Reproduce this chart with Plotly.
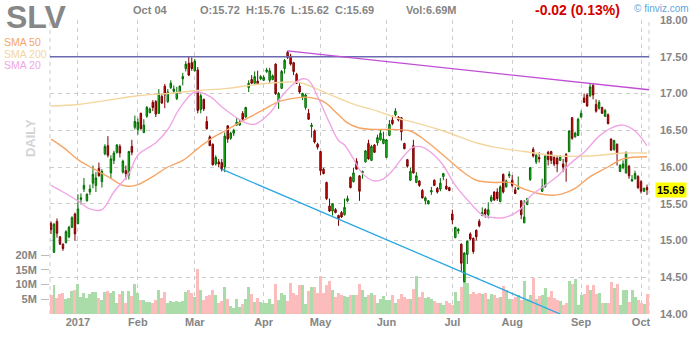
import plotly.graph_objects as go

# ---------------- data ----------------
opens = [15.23,14.84,15.26,15.05,14.95,14.97,15.05,15.18,15.36,15.23,
         15.56,15.70,15.54,15.66,15.78,15.75,15.98,15.80,16.18,16.29,
         15.92,16.09,16.20,16.28,15.93,15.95,15.89,16.28,16.54,16.51,
         16.73,16.47,16.69,16.74,16.88,16.89,16.73,16.96,17.10,16.89,
         17.08,17.03,16.93,17.02,17.20,17.34,17.41,17.42,17.31,17.32,
         16.78,16.92,16.62,16.41,16.31,16.04,16.07,16.06,16.00,16.56,
         16.39,16.46,16.57,16.57,16.73,16.68,17.08,17.19,17.14,17.17,
         17.20,17.18,17.30,17.18,17.19,17.40,16.90,17.07,17.34,17.56,
         17.51,17.42,17.26,17.10,16.95,16.81,16.73,16.55,16.49,16.31,
         16.21,15.97,15.79,15.47,15.40,15.42,15.34,15.38,15.35,15.54,
         15.86,15.80,16.08,15.88,15.92,16.07,16.32,16.09,16.30,16.33,
         16.37,16.32,16.13,16.43,16.64,16.71,16.68,16.67,16.32,16.10,
         15.82,16.29,15.79,15.81,15.68,15.54,15.50,15.66,15.82,15.71,
         15.70,15.87,15.74,15.72,15.36,15.04,15.13,14.95,14.44,14.81,
         15.09,15.03,15.14,15.26,15.34,15.42,15.35,15.54,15.66,15.66,
         15.53,15.90,15.73,15.88,15.82,15.69,15.70,15.54,15.24,15.49,
         15.83,16.24,16.07,16.13,15.67,15.73,16.20,16.21,16.13,16.12,
         16.09,16.04,16.17,16.21,16.67,16.41,16.43,16.68,16.94,16.98,
         16.97,17.11,16.85,16.80,16.81,16.69,16.71,16.38,16.24,16.31,
         15.94,15.99,15.92,16.01,15.81,15.84,15.87,15.80,15.67,15.72]
highs = [15.26,15.24,15.30,15.06,14.96,15.14,15.20,15.33,15.38,15.63,
         15.64,15.85,15.64,15.76,16.02,15.93,16.06,15.97,16.31,16.42,
         16.16,16.22,16.31,16.31,16.10,16.02,16.22,16.37,16.70,16.66,
         16.74,16.65,16.83,16.81,16.91,16.91,17.06,17.00,17.13,17.06,
         17.18,17.11,17.09,17.11,17.28,17.44,17.51,17.49,17.47,17.36,
         17.00,16.93,16.69,16.43,16.32,16.16,16.11,16.11,16.47,16.57,
         16.48,16.52,16.67,16.65,16.76,16.82,17.18,17.25,17.30,17.31,
         17.25,17.25,17.35,17.35,17.26,17.41,17.02,17.32,17.47,17.58,
         17.54,17.43,17.28,17.14,17.01,17.00,16.79,16.60,16.51,16.33,
         16.22,15.99,15.80,15.57,15.50,15.44,15.35,15.40,15.57,15.61,
         15.87,15.99,16.12,15.89,15.95,16.23,16.37,16.30,16.31,16.44,
         16.51,16.48,16.38,16.64,16.70,16.80,16.69,16.68,16.33,16.11,
         15.99,16.37,15.93,15.82,15.70,15.60,15.55,15.73,15.83,15.73,
         15.85,15.92,15.84,15.73,15.42,15.18,15.17,14.96,14.84,15.00,
         15.11,15.04,15.15,15.29,15.45,15.44,15.52,15.62,15.67,15.71,
         15.75,15.91,15.83,15.94,15.89,15.73,15.87,15.55,15.55,15.58,
         16.00,16.27,16.19,16.20,15.84,16.16,16.22,16.22,16.16,16.16,
         16.16,16.11,16.19,16.50,16.68,16.48,16.67,16.77,17.00,17.00,
         17.13,17.13,16.92,16.91,16.82,16.79,16.73,16.39,16.37,16.32,
         16.04,16.09,16.21,16.03,15.89,15.95,15.89,15.82,15.72,15.76]
lows = [15.09,14.83,15.04,14.94,14.86,14.96,15.03,15.17,15.00,15.22,
        15.49,15.66,15.53,15.62,15.71,15.66,15.87,15.72,16.16,16.13,
        15.85,16.04,16.18,16.13,15.91,15.83,15.83,16.16,16.51,16.44,
        16.51,16.46,16.67,16.73,16.76,16.68,16.72,16.86,16.80,16.87,
        17.06,17.00,16.91,17.00,17.11,17.30,17.24,17.31,17.30,16.73,
        16.73,16.76,16.51,16.29,16.02,16.02,16.00,15.94,15.93,16.33,
        16.37,16.42,16.56,16.56,16.62,16.67,17.02,17.13,17.13,17.12,
        17.18,17.17,17.28,17.14,17.18,16.98,16.79,17.06,17.27,17.47,
        17.38,17.25,17.13,17.00,16.91,16.78,16.64,16.40,16.32,16.24,
        15.89,15.90,15.55,15.39,15.34,15.37,15.20,15.31,15.34,15.52,
        15.71,15.79,15.97,15.54,15.84,16.06,16.10,16.08,16.19,16.29,
        16.36,16.31,16.12,16.42,16.57,16.69,16.62,16.36,16.24,15.99,
        15.81,15.91,15.78,15.73,15.57,15.49,15.49,15.62,15.75,15.64,
        15.67,15.82,15.69,15.67,15.22,15.03,15.09,14.57,14.43,14.68,
        15.00,14.82,15.00,15.18,15.33,15.31,15.30,15.52,15.54,15.54,
        15.52,15.64,15.72,15.85,15.72,15.63,15.69,15.29,15.24,15.48,
        15.81,16.13,16.04,16.06,15.66,15.72,16.02,16.04,16.01,15.93,
        16.08,15.93,15.80,16.20,16.37,16.40,16.42,16.67,16.87,16.82,
        16.95,16.92,16.74,16.78,16.73,16.68,16.58,16.22,16.22,16.02,
        15.93,15.97,15.91,15.84,15.80,15.83,15.70,15.64,15.66,15.62]
closes = [15.15,15.22,15.10,14.95,14.89,15.12,15.18,15.31,15.09,15.43,
          15.58,15.75,15.63,15.70,15.90,15.85,15.88,15.94,16.28,16.16,
          16.11,16.19,16.30,16.19,16.08,15.91,16.21,16.20,16.62,16.61,
          16.52,16.57,16.81,16.79,16.81,16.72,17.00,16.87,16.98,17.02,
          17.14,17.06,17.01,17.10,17.23,17.40,17.25,17.34,17.44,16.77,
          16.97,16.79,16.52,16.29,16.03,16.13,16.04,15.97,16.42,16.38,
          16.46,16.50,16.61,16.61,16.65,16.81,17.14,17.14,17.23,17.13,
          17.23,17.22,17.32,17.31,17.24,17.00,17.00,17.30,17.45,17.49,
          17.40,17.30,17.14,17.02,17.00,16.98,16.65,16.57,16.34,16.27,
          15.95,15.91,15.57,15.40,15.50,15.38,15.30,15.32,15.45,15.57,
          15.72,15.92,15.97,15.67,15.94,16.22,16.11,16.28,16.20,16.40,
          16.46,16.38,16.37,16.58,16.59,16.76,16.64,16.48,16.25,16.01,
          15.94,15.92,15.88,15.75,15.58,15.58,15.54,15.68,15.75,15.66,
          15.78,15.91,15.70,15.68,15.28,15.18,15.15,14.69,14.83,14.99,
          15.02,14.85,15.05,15.20,15.38,15.36,15.42,15.59,15.55,15.57,
          15.73,15.66,15.81,15.90,15.75,15.64,15.71,15.35,15.32,15.57,
          15.99,16.15,16.16,16.11,15.73,16.15,16.10,16.09,16.04,16.04,
          16.14,16.00,16.07,16.49,16.39,16.46,16.65,16.73,16.88,16.83,
          17.09,16.98,16.76,16.88,16.73,16.77,16.59,16.23,16.36,16.18,
          16.02,16.04,16.20,15.88,15.83,15.91,15.72,15.67,15.71,15.69]
volumes_m = [6.3,10.0,5.4,6.7,7.2,5.2,5.4,7.7,8.0,10.3,
             5.8,7.0,5.4,6.8,7.3,7.3,5.3,4.7,7.3,7.7,
             7.2,7.7,3.8,6.7,7.7,3.8,7.7,6.1,10.3,7.1,
             4.7,4.7,4.1,4.1,3.9,4.7,8.2,5.4,7.4,3.8,
             4.3,4.1,4.3,4.1,4.3,7.3,8.0,7.2,5.8,15.1,
             8.0,4.9,6.1,6.6,8.0,6.3,3.9,4.3,9.2,5.0,
             2.8,2.1,5.0,2.5,3.3,5.0,9.0,6.8,4.1,5.4,
             4.1,3.9,3.6,5.0,3.5,10.3,4.7,7.1,6.3,4.3,
             10.6,7.1,6.6,9.9,9.9,3.3,7.7,9.0,9.0,7.0,
             13.0,7.0,10.0,11.3,8.0,5.7,7.0,6.6,6.0,5.7,
             6.3,6.3,6.3,10.2,8.3,5.8,6.3,7.2,6.3,3.9,
             5.0,6.0,4.7,4.7,6.3,3.9,5.0,6.9,5.8,5.2,
             5.2,8.6,13.0,5.8,7.4,5.4,5.7,5.0,4.3,3.9,
             3.6,3.2,4.3,3.9,3.0,7.4,4.3,9.0,14.3,10.6,
             6.9,7.4,6.9,7.1,6.9,7.2,5.0,6.9,6.6,5.4,
             5.8,9.5,8.0,5.2,5.2,5.8,6.3,4.7,11.3,5.0,
             6.6,12.2,5.2,6.1,6.6,8.8,5.8,7.8,5.4,4.7,
             4.3,3.0,3.6,11.2,10.3,11.7,3.0,6.3,6.8,9.9,
             8.0,9.9,6.9,7.2,3.9,3.9,3.9,11.0,8.8,10.1,
             3.2,8.0,8.3,4.1,8.3,5.8,4.7,3.9,3.3,6.69]

# moving averages (trading-day index, value)
sma50_idx = [0,4,9,14,19,24,27,29,34,39,44,49,54,59,65,71,76,82,85,91,96,99,103,
             109,114,120,125,131,137,142,148,153,158,164,169,175,180,186,191,199]
sma50_val = [16.38,16.27,16.10,15.98,15.87,15.75,15.74,15.76,15.87,16.00,16.09,16.25,
             16.40,16.51,16.65,16.78,16.89,16.94,16.95,16.89,16.71,16.60,16.53,16.51,
             16.51,16.49,16.36,16.16,15.95,15.82,15.79,15.79,15.70,15.63,15.62,15.71,
             15.87,16.00,16.11,16.14]
sma200_idx = [0,9,19,29,39,49,59,70,76,83,90,100,109,116,120,131,142,148,158,169,180,191,199]
sma200_val = [16.83,16.85,16.91,16.97,17.00,17.04,17.07,17.13,17.15,17.15,17.04,16.87,
              16.76,16.66,16.62,16.49,16.33,16.27,16.21,16.15,16.15,16.19,16.19]
sma20_idx = [0,4,9,13,17,21,26,29,35,39,43,48,53,57,62,65,68,73,77,81,84,86,89,93,96,
             98,101,104,108,111,114,118,121,124,128,131,135,140,144,148,151,156,160,
             165,169,174,178,183,187,191,195,199]
sma20_val = [15.75,15.66,15.54,15.43,15.42,15.66,15.91,16.16,16.33,16.51,16.80,17.02,
             16.96,16.82,16.67,16.60,16.58,16.73,16.96,17.13,17.20,17.18,16.96,16.60,
             16.36,16.30,16.11,15.91,15.81,15.84,15.95,16.16,16.27,16.27,16.16,16.02,
             15.75,15.51,15.35,15.31,15.31,15.40,15.60,15.75,15.87,16.07,16.20,16.42,
             16.53,16.57,16.49,16.29]

# trend lines (index, price)
level_line = [17.50, 17.50]
level_idx = [-0.34, 199.67]
resist_idx = [79, 199.67]
resist_val = [17.58, 17.05]
support_idx = [57, 170]
support_val = [15.97, 14.00]

month_idx = [9, 29, 48, 71, 90, 112, 134, 154, 177, 197]
month_labels = ["2017", "Feb", "Mar", "Apr", "May", "Jun", "Jul", "Aug", "Sep", "Oct"]
price_ticks = [14.0, 14.5, 15.0, 15.5, 16.0, 16.5, 17.0, 17.5, 18.0]
vol_ticks_m = [5, 10, 15, 20]

# ---------------- figure ----------------
n = len(closes)
idx = list(range(n))
UP_VOL, DN_VOL = "#aadcaa", "#fcbcbc"
vol_colors = [UP_VOL if c >= o else DN_VOL for o, c in zip(opens, closes)]

FONT = "Liberation Sans"
GRAY = "#858585"
GRID = "#cccccc"
DASH = "4px,4px"

fig = go.Figure()
fig.add_trace(go.Bar(x=idx, y=[v * 1e6 for v in volumes_m], marker=dict(color=vol_colors, line=dict(width=0)),
                     width=1.0, xaxis="x", yaxis="y", hoverinfo="skip"))

fig.add_trace(go.Scatter(x=level_idx, y=level_line, mode="lines", yaxis="y2",
                         line=dict(color="#6a6ab0", width=1.3), hoverinfo="skip"))

for xs, ys, col in [(sma200_idx, sma200_val, "#f3d69e"),
                    (sma50_idx, sma50_val, "#f6a565"),
                    (sma20_idx, sma20_val, "#f0a6e4")]:
    fig.add_trace(go.Scatter(x=xs, y=ys, mode="lines", yaxis="y2", line_shape="spline",
                             line=dict(color=col, width=1.4), hoverinfo="skip"))

fig.add_trace(go.Candlestick(x=idx, open=opens, high=highs, low=lows, close=closes, yaxis="y2",
                             increasing=dict(line=dict(color="#006a00", width=1), fillcolor="#22d022"),
                             decreasing=dict(line=dict(color="#7a0000", width=1), fillcolor="#dd0a0a"),
                             whiskerwidth=0, hoverinfo="skip"))

fig.add_trace(go.Scatter(x=resist_idx, y=resist_val, mode="lines", yaxis="y2",
                         line=dict(color="#c04ed4", width=1.4), hoverinfo="skip"))
fig.add_trace(go.Scatter(x=support_idx, y=support_val, mode="lines", yaxis="y2",
                         line=dict(color="#2aa6e2", width=1.3), hoverinfo="skip"))

tickfont = dict(family=FONT, size=11, color=GRAY, weight="bold")
fig.update_layout(
    width=700, height=340, margin=dict(l=50, r=50, t=20, b=21),
    paper_bgcolor="white", plot_bgcolor="white", showlegend=False, hovermode=False,
    bargap=0,
    xaxis=dict(range=[-1/3, 199 + 2/3], tickmode="array", tickvals=month_idx, ticktext=month_labels,
               showgrid=True, gridcolor=GRID, griddash=DASH, gridwidth=1, zeroline=False,
               showline=False, ticks="", tickfont=tickfont, rangeslider=dict(visible=False),
               ticklabelstandoff=0),
    yaxis=dict(range=[0, 99.67e6], side="left", tickmode="array",
               tickvals=[v * 1e6 for v in vol_ticks_m], ticktext=[f"{v}M" for v in vol_ticks_m],
               showgrid=False, zeroline=False, showline=False, ticks="outside", ticklen=8,
               tickcolor="#bbbbbb", tickfont=tickfont, ticklabelstandoff=2),
    yaxis2=dict(range=[14, 18], overlaying="y", side="right", tickmode="array",
                tickvals=price_ticks, ticktext=[f"{p:.2f}" for p in price_ticks],
                showgrid=True, gridcolor=GRID, griddash=DASH, gridwidth=1, zeroline=False,
                showline=False, ticks="", tickfont=tickfont, ticklabelstandoff=10),
)

# dashed plot borders left / right
for xp in (0, 1):
    fig.add_shape(type="line", xref="paper", yref="paper", x0=xp, x1=xp, y0=0, y1=1,
                  line=dict(color=GRID, width=1, dash=DASH), layer="below")


def px(x):
    return (x - 50) / 600


def py(y):
    return (319 - y) / 299


def ann(text, x, y, size=11, color=GRAY, bold=True, **kw):
    fig.add_annotation(text=text, x=px(x), y=py(y), xref="paper", yref="paper", showarrow=False,
                       xanchor=kw.pop("xanchor", "left"), yanchor="middle",
                       font=dict(family=FONT, size=size, color=color, weight="bold" if bold else "normal"),
                       **kw)


chg = closes[-1] - closes[-2]
pct = abs(chg) / closes[-2] * 100
ann("SLV", 4, 17, size=32, color="#878787")
ann("Oct 04", 131, 10)
ann(f"O:{opens[-1]:.2f}", 198, 10)
ann(f"H:{highs[-1]:.2f}", 244, 10)
ann(f"L:{lows[-1]:.2f}", 289, 10)
ann(f"C:{closes[-1]:.2f}", 333, 10)
ann(f"Vol:{volumes_m[-1]:.2f}M", 405, 10)
ann(f"{chg:.2f} ({pct:.2f}%)", 534, 10, size=14, color="#d40000")
ann("© finviz.com", 633, 8, size=10, color="#5ea6dc", bold=False)
ann("SMA 50", 2, 42.5, size=10.5, color="#f6a565", bold=False)
ann("SMA 200", 2, 54.5, size=10.5, color="#f3d69e", bold=False)
ann("SMA 20", 2, 66, size=10.5, color="#f0a6e4", bold=False)
ann("DAILY", 31, 140, size=13, color="#d4d4d4", textangle=-90, xanchor="center")

# last price tag
fig.add_annotation(text=f"<b>{closes[-1]:.2f}</b>", x=px(656), y=closes[-1], xref="paper", yref="y2",
                   showarrow=False, xanchor="left", yanchor="middle", bgcolor="#ffff00",
                   font=dict(family=FONT, size=11, color="#000000"), borderpad=1)

fig.write_html("out.html")
